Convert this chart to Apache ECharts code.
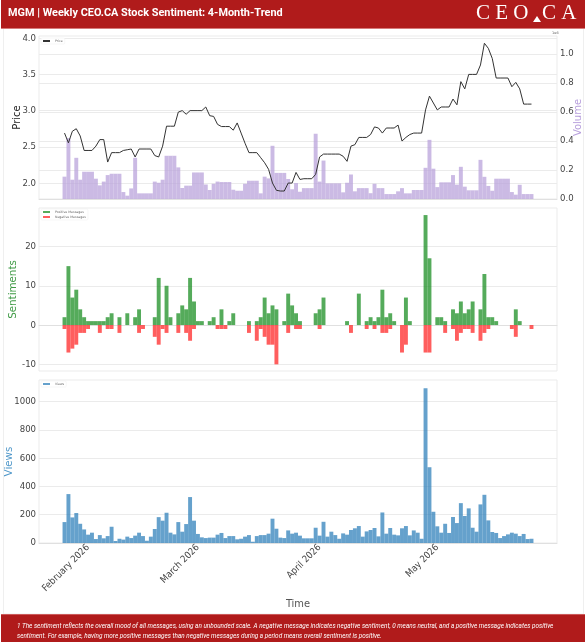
<!DOCTYPE html>
<html><head><meta charset="utf-8">
<style>html,body{margin:0;padding:0;background:#fff}#c{width:587px;height:642px}</style>
<script src="https://cdn.jsdelivr.net/npm/echarts@6/dist/echarts.min.js"></script>
</head><body><div id="c"></div>
<script>
const titleText = 'MGM | Weekly CEO.CA Stock Sentiment: 4-Month-Trend';
const footLine1 = '1 The sentiment reflects the overall mood of all messages, using an unbounded scale. A negative message indicates negative sentiment, 0 means neutral, and a positive message indicates positive';
const footLine2 = 'sentiment. For example, having more positive messages than negative messages during a period means overall sentiment is positive.';
const tickLabels = {'2026-02-01':'February 2026','2026-03-01':'March 2026','2026-04-01':'April 2026','2026-05-01':'May 2026'};
const firstDay = '2026-01-20';
const slotCount = 132;
const padSlots = 6;
const priceTicks = [2.0,2.5,3.0,3.5,4.0];
const volumeTicks = [0,0.2,0.4,0.6,0.8,1.0];
const sentimentTicks = [-10,0,10,20];
const viewTicks = [0,200,400,600,800,1000];

const price = [2.69,2.555,2.715,2.75,2.65,2.45,2.45,2.45,2.51,2.6,2.6,2.29,2.42,2.42,2.42,2.45,2.46,2.47,2.36,2.47,
2.47,2.47,2.47,2.38,2.36,2.51,2.785,2.785,2.785,2.98,3.0,2.95,3.0,3.0,3.0,3.0,3.05,2.93,2.92,2.81,
2.78,2.78,2.78,2.73,2.83,2.69,2.55,2.42,2.42,2.42,2.35,2.28,2.19,2.0,1.9,1.89,1.89,2.0,2.0,2.147,
2.05,2.06,2.06,2.06,2.12,2.36,2.4,2.4,2.4,2.4,2.4,2.37,2.3,2.51,2.53,2.63,2.63,2.63,2.67,2.775,
2.76,2.69,2.76,2.76,2.76,2.8,2.58,2.63,2.67,2.69,2.69,2.69,3.01,3.2,3.105,3.01,3.05,3.05,3.05,3.16,
3.08,3.4,3.3,3.5,3.5,3.5,3.63,3.93,3.86,3.72,3.45,3.45,3.45,3.45,3.33,3.39,3.3,3.09,3.09,3.09];
const volume = [.154,.42,.133,.284,.133,.188,.188,.188,.14,.094,.12,.165,.174,.174,.174,.048,.023,.073,.284,.039,
.039,.039,.039,.12,.112,.133,.298,.298,.298,.218,.076,.092,.092,.183,.183,.183,.1,.062,.105,.12,
.117,.117,.117,.064,.057,.057,.105,.126,.126,.126,.039,.154,.142,.367,.18,.18,.18,.138,.067,.11,
.05,.075,.075,.075,.45,.12,.265,.108,.108,.108,.108,.046,.112,.169,.053,.075,.075,.075,.04,.105,
.075,.075,.034,.034,.034,.053,.075,.039,.039,.062,.062,.062,.215,.408,.209,.082,.115,.115,.115,.165,
.099,.222,.085,.06,.06,.06,.27,.153,.09,.057,.14,.14,.14,.14,.048,.03,.098,.034,.034,.034];
const positive = [2,15,7,9,4,2,1,1,1,1,1,2,3,0,2,0,3,0,2,4,
0,0,0,2,12,0,10,2,0,3,5,4,12,6,1,1,0,1,2,0,
4,0,1,3,0,0,0,1,0,1,2,7,3,5,4,0,1,8,5,3,
1,0,0,0,3,4,7,0,0,0,0,0,1,0,0,8,0,1,2,1,
2,9,2,3,1,0,0,7,1,0,0,0,28,17,0,2,2,1,0,4,
3,6,3,4,6,0,4,13,2,2,1,0,0,0,0,4,1,0,0,0];
const negative = [-1,-7,-6,-5,-2,-2,-1,0,0,-2,0,-1,-1,0,-2,0,0,0,0,-2,
-1,0,0,-3,-5,-1,-2,0,0,-2,0,-2,-4,-1,0,0,0,0,0,-1,
-1,-1,0,0,0,0,0,-2,0,-4,-1,-3,-5,-5,-10,0,0,-2,0,-1,
-1,0,0,0,0,-1,0,0,0,0,0,0,0,-2,0,0,0,-1,0,-1,
0,-2,-2,-1,0,0,-7,-5,0,0,0,0,-7,-7,0,0,0,-2,0,-1,
-4,-2,-1,-1,-2,0,-4,-2,-1,0,0,0,0,0,-1,-3,0,0,0,-1];
const views = [148,346,181,212,136,96,59,73,28,56,33,49,115,14,30,24,45,35,52,73,
49,16,45,99,183,158,214,73,61,148,80,134,325,158,64,40,35,38,38,59,
71,35,49,49,26,30,45,56,9,49,56,56,66,172,101,38,35,89,66,73,
52,33,33,33,108,52,150,45,80,56,30,68,59,92,104,120,45,82,92,106,
47,216,66,106,59,54,104,120,54,89,73,30,1094,536,221,118,73,136,71,184,
141,282,191,245,108,80,273,341,160,78,71,35,49,61,73,66,49,64,28,30];

const pad = arr => [...Array(padSlots).fill(null), ...arr, ...Array(slotCount - padSlots - arr.length).fill(null)];
const nz = arr => arr.map(v => v === 0 ? null : v);
const categories = [];
for (let i = 0; i < slotCount; i++) {
  const d = new Date(Date.parse(firstDay + 'T00:00:00Z') + i * 86400000);
  categories.push(d.toISOString().slice(0, 10));
}
const L = 39, R = 30;
const panels = [{top:36,height:163},{top:208,height:163},{top:380,height:163}];
const gridCol = '#ebebeb', tickCol = '#444', mono = 'DejaVu Sans', cond = '"DejaVu Sans Condensed","DejaVu Sans"';

const valueAxis = (o) => Object.assign({
  type:'value', axisLine:{show:false}, axisTick:{show:false},
  splitLine:{show:true,lineStyle:{color:gridCol,width:1}},
  nameLocation:'middle', nameRotate:90, nameMoveOverlap:false,
}, o);
const xBase = (i, extra) => Object.assign({
  type:'category', gridIndex:i, data:categories, boundaryGap:true,
  axisTick:{show:false}, axisLine:{show:true,onZero:true,lineStyle:{color:'#e0e0e0',width:1}},
  axisLabel:{show:false}, splitLine:{show:false},
}, extra || {});
const barS = (name,x,y,data,color,extra) => Object.assign({
  name, type:'bar', xAxisIndex:x, yAxisIndex:y, data:pad(data), barWidth:'100%', barGap:'-100%',
  itemStyle:{color,opacity:0.72,borderWidth:0}, animation:false,
}, extra || {});
const legendBase = (o) => Object.assign({
  orient:'vertical', left:41, itemWidth:7, itemHeight:2, itemGap:2, padding:[1.5,2,1.5,2],
  backgroundColor:'#fff', borderColor:'#eeeeee', borderWidth:0.5, borderRadius:1,
  textStyle:{fontSize:3.2,color:'#666',fontFamily:mono}, icon:'rect',
}, o);
const tickFont = {fontSize:9.5,color:tickCol,margin:3,fontFamily:cond};

const option = {
  animation:false, backgroundColor:'#fff',
  textStyle:{fontFamily:mono},
  grid:panels.map(p => ({left:L,right:R,top:p.top,height:p.height,show:true,borderColor:gridCol,borderWidth:1,backgroundColor:'#fff',outerBoundsMode:'none',containLabel:false})),
  xAxis:[
    xBase(0), xBase(1),
    xBase(2,{
      name:'Time', nameLocation:'middle', nameGap:56, nameMoveOverlap:false,
      nameTextStyle:{fontSize:11,color:'#555',fontFamily:cond},
      axisLabel:Object.assign({},tickFont,{show:true,rotate:45,
        interval:(idx,val)=>val in tickLabels, formatter:v=>tickLabels[v]||''}),
    }),
  ],
  yAxis:[
    valueAxis({gridIndex:0,min:1.78,max:4.03,name:'Price',nameGap:17,
      nameTextStyle:{fontSize:10,color:'#222',fontFamily:mono},
      axisLabel:Object.assign({},tickFont,{customValues:priceTicks,formatter:v=>v.toFixed(1)}),
      axisTick:{show:false,customValues:priceTicks}}),
    valueAxis({gridIndex:0,position:'right',min:0,max:1.124,name:'Volume',nameGap:16,
      nameTextStyle:{fontSize:10,color:'#b79fdc',fontFamily:mono},
      axisLabel:Object.assign({},tickFont,{customValues:volumeTicks,formatter:v=>v.toFixed(1)}),
      axisTick:{show:false,customValues:volumeTicks}}),
    valueAxis({gridIndex:1,min:-11.7,max:29.8,name:'Sentiments',nameGap:21,
      nameTextStyle:{fontSize:10.3,color:'#3f9a45',fontFamily:mono},
      axisLabel:Object.assign({},tickFont,{customValues:sentimentTicks}),
      axisTick:{show:false,customValues:sentimentTicks}}),
    valueAxis({gridIndex:2,min:0,max:1153,name:'Views',nameGap:25,
      nameTextStyle:{fontSize:10.3,color:'#4f97c9',fontFamily:mono},
      axisLabel:Object.assign({},tickFont,{customValues:viewTicks,formatter:v=>String(v)}),
      axisTick:{show:false,customValues:viewTicks}}),
  ],
  legend:[
    legendBase({top:38,data:['Price']}),
    legendBase({top:209,data:['Positive Messages','Negative Messages']}),
    legendBase({top:381,data:['Views']}),
  ],
  series:[
    barS('Volume',0,1,volume,'#b79fd9'),
    {name:'Price',type:'line',xAxisIndex:0,yAxisIndex:0,data:pad(price),showSymbol:false,symbol:'none',
     lineStyle:{color:'#333',width:1},itemStyle:{color:'#333'},z:5,connectNulls:false},
    barS('Positive Messages',1,2,nz(positive),'#148a1c'),
    barS('Negative Messages',1,2,nz(negative),'#ff2020'),
    barS('Views',2,3,views,'#2a7db8'),
  ],
  graphic:[
    {type:'rect',silent:true,z:-1,shape:{x:3.5,y:28,width:580,height:586},style:{fill:'#fff',stroke:'#efefef',lineWidth:1}},
    {type:'rect',silent:true,shape:{x:1,y:0,width:584,height:28},style:{fill:'#b01b1b'}},
    {type:'rect',silent:true,shape:{x:1,y:28,width:584,height:1},style:{fill:'#d67a7a'}},
    {type:'rect',silent:true,shape:{x:1,y:614,width:584,height:28},style:{fill:'#b01b1b'}},
    {type:'rect',silent:true,shape:{x:1,y:614,width:584,height:1},style:{fill:'#cc5a5a'}},
    {type:'text',silent:true,style:{x:8,y:13.5,text:titleText,fill:'#fff',font:'bold 10.9px Roboto',verticalAlign:'middle'}},
    {type:'text',silent:true,style:{x:476,y:13,text:'C E O',fill:'#fff',font:'21px "Liberation Serif"',verticalAlign:'middle'}},
    {type:'text',silent:true,style:{x:542,y:13,text:'C A',fill:'#fff',font:'21px "Liberation Serif"',verticalAlign:'middle'}},
    {type:'polygon',silent:true,shape:{points:[[533,22],[541,22],[537,16]]},style:{fill:'#fff'}},
    {type:'text',silent:true,style:{x:17,y:626,text:footLine1,fill:'#fff',font:'italic 6.36px Roboto',verticalAlign:'middle'}},
    {type:'text',silent:true,style:{x:17,y:636,text:footLine2,fill:'#fff',font:'italic 6.36px Roboto',verticalAlign:'middle'}},
    {type:'text',silent:true,style:{x:552,y:33,text:'1e6',fill:'#666',font:'3.5px "DejaVu Sans"',verticalAlign:'middle'}},
  ],
};
const chart = echarts.init(document.getElementById('c'),null,{renderer:'canvas'});
chart.setOption(option);
</script></body></html>
